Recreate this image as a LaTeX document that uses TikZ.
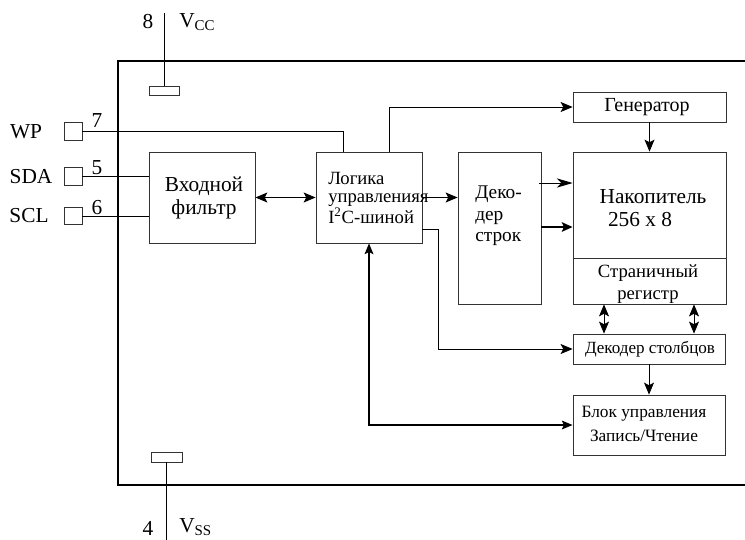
\documentclass[tikz,border=0pt]{standalone}
\usepackage{fontspec}
\setmainfont{Liberation Serif}
\usetikzlibrary{arrows.meta}
\begin{document}
\begin{tikzpicture}[x=0.75pt,y=-0.75pt,
  box/.style={draw=black!80,line width=0.6pt,inner sep=0pt,anchor=center},
  pad/.style={draw=black!80,line width=0.6pt,inner sep=0pt},
  conn/.style={line width=0.6pt,black},
  arr/.style={-{Stealth[length=9pt,width=7.5pt,inset=2pt]}},
  darr/.style={{Stealth[length=9pt,width=7.5pt,inset=2pt]}-{Stealth[length=9pt,width=7.5pt,inset=2pt]}},
  txt/.style={inner sep=0pt},
  pin/.style={font=\fontsize{16}{18}\selectfont,inner sep=0pt}]
\useasboundingbox (0,0) rectangle (745,539);
% outer body
\draw[line width=1.3pt] (745,61) -- (118,61) -- (118,485) -- (745,485);
% boxes
\node[box,minimum width=79.5pt,minimum height=68.25pt] (filt) at (202,197.5) {};
\node[box,minimum width=79.5pt,minimum height=68.25pt] (logic) at (369,197.5) {};
\node[box,minimum width=62.25pt,minimum height=114pt] (dec) at (499.5,228) {};
\node[box,minimum width=114.75pt,minimum height=22.5pt] (gen) at (649.5,107) {};
\node[box,minimum width=114.75pt,minimum height=114pt] (mem) at (649.5,228) {};
\draw[line width=0.6pt,black!80] (mem.west |- 0,258) -- (mem.east |- 0,258);
\node[box,minimum width=114pt,minimum height=22.5pt] (col) at (649,349) {};
\node[box,minimum width=114pt,minimum height=45pt] (blk) at (649,425) {};
% pins
\node[pad,minimum width=13.5pt,minimum height=14pt] (wpsq) at (73,131.5) {};
\node[pad,minimum width=13.5pt,minimum height=13pt] (sdasq) at (73,176.5) {};
\node[pad,minimum width=13.5pt,minimum height=13pt] (sclsq) at (73,216) {};
\node[pad,minimum width=22.5pt,minimum height=6.75pt] (vccpad) at (164,90.5) {};
\node[pad,minimum width=23.25pt,minimum height=7.5pt] (vsspad) at (166.5,457) {};
\coordinate (vcctop) at (164,13);
\coordinate (vssbot) at (166.5,545);
% pin labels
\node[pin] (lwp) at (26,132) {WP};
\node[pin] (lsda) at (31,177) {SDA};
\node[pin] (lscl) at (29,216) {SCL};
\node[pin] (n7) at (97,121) {7};
\node[pin] (n5) at (97,168) {5};
\node[pin] (n6) at (97,208) {6};
\node[pin] (n8) at (148,22) {8};
\node[pin,anchor=west] (lvcc) at (179,22) {V\textsubscript{CC}};
\node[pin] (n4) at (148,528) {4};
\node[pin,anchor=west] (lvss) at (179,527) {V\textsubscript{SS}};
% box texts
\node[txt,align=center,font=\fontsize{16}{17.25}\selectfont] (tfilt) at (204,198) {Входной\\фильтр};
\node[txt,align=left,anchor=west,font=\fontsize{14}{14}\selectfont] (tlogic) at (328,198) {Логика\\управленияя\\I\textsuperscript{2}C-шиной};
\node[txt,align=left,anchor=west,font=\fontsize{14.5}{16.2}\selectfont] (tdec) at (475,216) {Деко-\\дер\\строк};
\node[txt,font=\fontsize{15}{17}\selectfont] (tgen) at (647,107) {Генератор};
\node[txt,font=\fontsize{16}{18}\selectfont] (tmem1) at (653,197) {Накопитель};
\node[txt,font=\fontsize{16}{18}\selectfont] (tmem2) at (640,220) {256 x 8};
\node[txt,align=center,font=\fontsize{14}{16.5}\selectfont] (tpage) at (648,284) {Страничный\\регистр};
\node[txt,font=\fontsize{12.8}{15}\selectfont] (tcol) at (650,349) {Декодер столбцов};
\node[txt,align=center,font=\fontsize{13}{18}\selectfont] (tblk) at (644,424) {Блок управления\\Запись/Чтение};
% connectors
\draw[conn] (vcctop) -- (vccpad.north);
\draw[conn] (vsspad.south) -- (vssbot);
\draw[conn] (wpsq.east) -| ([shift={(-26,0)}]logic.north);
\draw[conn] (sdasq.east) -- (filt.west |- sdasq.east);
\draw[conn] (sclsq.east) -- (filt.west |- sclsq.east);
\draw[conn,darr] (filt.east) -- (logic.west);
\draw[conn,arr] (logic.east) -- (dec.west |- logic.east);
\draw[conn,arr] ([shift={(20,0)}]logic.north) |- (gen.west);
\draw[conn,arr] (gen.south) -- (mem.north);
\draw[conn,-{Stealth[length=12pt,width=7pt,inset=3.5pt]}] ([shift={(-2,-45)}]dec.east) -- (mem.west |- 0,183);
\draw[line width=2pt,-{Stealth[length=8pt,width=7pt,inset=1.5pt]}] (dec.east |- 0,227) -- (mem.west |- 0,227);
\draw[conn,arr] ([shift={(0,31.5)}]logic.east) -- ++(16,0) |- (col.west);
\draw[conn,darr] ([shift={(-45.5,0)}]mem.south) -- ([shift={(-45,0)}]col.north);
\draw[conn,darr] ([shift={(44.5,0)}]mem.south) -- ([shift={(45,0)}]col.north);
\draw[conn,arr] (col.south) -- (blk.north);
\draw[line width=1.3pt,{Stealth[length=8pt,width=6.5pt,inset=1.5pt]}-{Stealth[length=8pt,width=6.5pt,inset=1.5pt]}] (blk.west) -| (logic.south);
\end{tikzpicture}
\end{document}
